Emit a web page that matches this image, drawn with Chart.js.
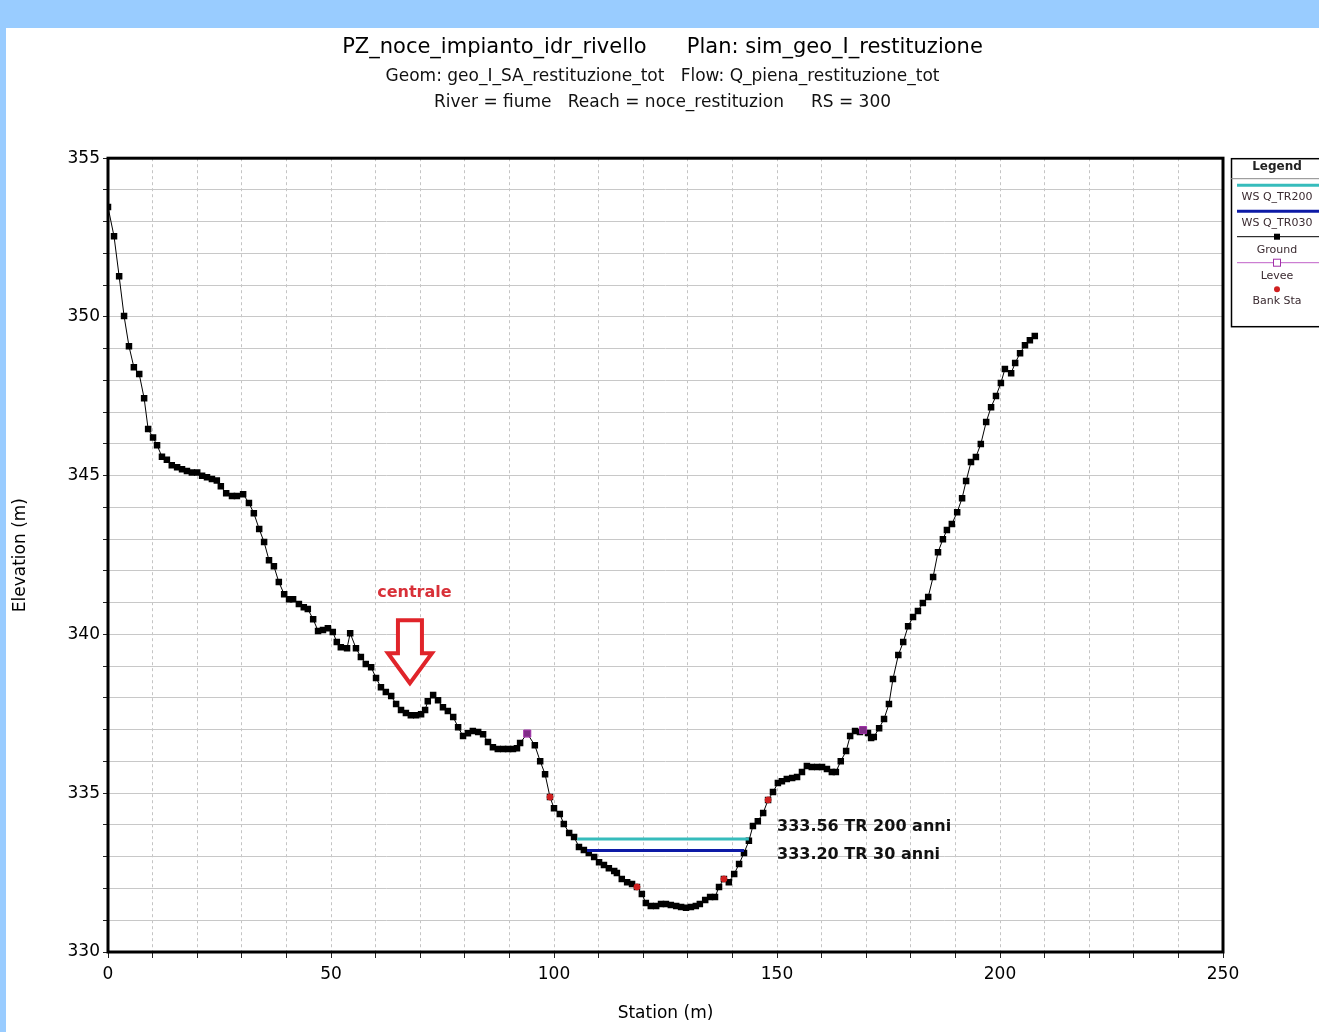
<!DOCTYPE html>
<html><head><meta charset="utf-8">
<script src="https://cdn.jsdelivr.net/npm/chart.js@4.4.1/dist/chart.umd.min.js"></script>
<style>
html,body{margin:0;padding:0;background:#99ccff;width:1319px;height:1032px;overflow:hidden}
#wrap{position:absolute;left:6px;top:28px;width:1313px;height:1004px;background:#fff}
canvas{display:block}
</style></head><body>
<div id="wrap"><canvas id="c" width="1313" height="1004"></canvas></div>
<script>
const FONT = "'DejaVu Sans', Arial, sans-serif";

const titleLine1 = "PZ_noce_impianto_idr_rivello      Plan: sim_geo_I_restituzione";
const titleLine2 = "Geom: geo_I_SA_restituzione_tot   Flow: Q_piena_restituzione_tot";
const titleLine3 = "River = fiume   Reach = noce_restituzion     RS = 300";
const xAxisTitle = "Station (m)";
const yAxisTitle = "Elevation (m)";

const groundStation = [0,1.35,2.5,3.6,4.7,5.8,7.0,8.1,9.0,10.1,11.0,12.1,13.2,14.3,15.5,16.6,17.7,18.8,20.0,21.1,22.2,23.3,24.4,25.3,26.5,27.8,28.9,30.3,31.6,32.7,33.9,35.0,36.1,37.2,38.3,39.5,40.6,41.5,42.8,43.9,44.8,46.0,47.1,48.2,49.3,50.4,51.3,52.2,53.6,54.3,55.6,56.7,57.8,59.0,60.1,61.2,62.3,63.5,64.6,65.7,66.8,67.9,69.1,70.2,71.1,71.7,72.9,74.0,75.1,76.2,77.4,78.5,79.6,80.7,81.8,83.0,84.1,85.2,86.3,87.4,88.6,89.7,90.8,91.7,92.4,94.0,95.7,96.9,98.0,99.1,100.0,101.3,102.2,103.4,104.5,105.6,106.7,107.8,109.0,110.1,111.2,112.3,113.5,114.1,115.2,116.4,117.5,118.6,119.7,120.6,121.7,122.9,124.0,125.1,126.2,127.4,128.5,129.6,130.7,131.8,132.7,133.9,135.0,136.1,137.0,138.1,139.2,140.4,141.5,142.6,143.7,144.6,145.7,146.9,148.0,149.1,150.2,151.1,152.2,153.4,154.5,155.6,156.7,157.8,159.0,160.1,161.2,162.3,163.2,164.3,165.5,166.4,167.5,168.6,169.3,170.4,171.1,171.7,172.9,174.0,175.1,176.0,177.2,178.3,179.4,180.5,181.6,182.7,183.9,185.0,186.1,187.2,188.1,189.2,190.4,191.5,192.4,193.5,194.6,195.7,196.9,198.0,199.1,200.2,201.1,202.5,203.4,204.5,205.6,206.7,207.8];
const groundElev = [353.46,352.54,351.28,350.03,349.08,348.42,348.2,347.44,346.47,346.2,345.96,345.6,345.5,345.33,345.27,345.2,345.15,345.1,345.1,345.0,344.95,344.9,344.85,344.67,344.45,344.36,344.36,344.42,344.14,343.82,343.32,342.91,342.34,342.15,341.65,341.27,341.11,341.11,340.96,340.86,340.80,340.48,340.11,340.14,340.20,340.08,339.76,339.60,339.57,340.04,339.57,339.29,339.07,338.97,338.63,338.34,338.19,338.06,337.81,337.62,337.53,337.46,337.46,337.49,337.62,337.90,338.09,337.93,337.71,337.59,337.40,337.08,336.80,336.89,336.96,336.93,336.86,336.61,336.45,336.39,336.39,336.39,336.39,336.42,336.58,336.88,336.51,336.01,335.60,334.88,334.53,334.35,334.03,333.75,333.62,333.31,333.21,333.12,332.99,332.83,332.74,332.64,332.55,332.49,332.30,332.20,332.14,332.05,331.83,331.54,331.45,331.45,331.51,331.51,331.48,331.45,331.42,331.39,331.42,331.45,331.51,331.64,331.73,331.73,332.05,332.30,332.20,332.46,332.77,333.12,333.50,333.97,334.12,334.38,334.79,335.04,335.32,335.38,335.45,335.48,335.51,335.67,335.86,335.83,335.83,335.83,335.76,335.67,335.67,336.01,336.33,336.80,336.96,336.93,336.99,336.90,336.74,336.77,337.05,337.34,337.81,338.60,339.35,339.76,340.26,340.55,340.74,340.99,341.18,341.81,342.59,343.00,343.29,343.48,343.85,344.29,344.83,345.43,345.59,346.00,346.69,347.16,347.51,347.92,348.36,348.23,348.55,348.86,349.11,349.27,349.40];

const wsTR200Station = [105.2, 143.7];
const wsTR200Elev = 333.56;
const wsTR030Station = [107.4, 142.6];
const wsTR030Elev = 333.20;

const leveeStation = [94.0, 169.3];
const leveeElev = [336.88, 336.99];

const bankStation = [99.1, 118.6, 138.1, 148.0];
const bankElev = [334.88, 332.05, 332.30, 334.79];

const legendLabels = ["WS Q_TR200", "WS Q_TR030", "Ground", "Levee", "Bank Sta"];

const annotCentrale = {text: "centrale", x: 68.7, y: 341.3, arrowX: 67.7, arrowY: 338.37};
const wsLabels = [
  {text: "333.56 TR 200 anni", x: 150.0, y: 333.93},
  {text: "333.20 TR 30 anni", x: 150.0, y: 333.05}
];

const C_TR200 = '#36bcbc', C_TR030 = '#0d1aa6', C_LEVEE = '#a030a8', C_BANK = '#d02020';

const ground = groundStation.map((x, i) => ({x, y: groundElev[i]}));

const framePlugin = {
  id: 'frame',
  afterDatasetsDraw(chart) {
    const a = chart.chartArea, ctx = chart.ctx;
    ctx.save();
    ctx.strokeStyle = '#000';
    ctx.lineWidth = 3;
    ctx.strokeRect(a.left, a.top, a.right - a.left, a.bottom - a.top);
    ctx.restore();
  }
};

const annotPlugin = {
  id: 'annots',
  afterDatasetsDraw(chart) {
    const ctx = chart.ctx, xs = chart.scales.x, ys = chart.scales.y;
    ctx.save();
    ctx.font = "bold 16px " + FONT;
    ctx.fillStyle = '#d83038';
    ctx.textAlign = 'center';
    ctx.textBaseline = 'middle';
    ctx.fillText(annotCentrale.text, xs.getPixelForValue(annotCentrale.x), ys.getPixelForValue(annotCentrale.y));
    const tx = xs.getPixelForValue(annotCentrale.arrowX), ty = ys.getPixelForValue(annotCentrale.arrowY);
    ctx.beginPath();
    ctx.moveTo(tx, ty - 3);
    ctx.lineTo(tx - 22, ty - 33);
    ctx.lineTo(tx - 12, ty - 33);
    ctx.lineTo(tx - 12, ty - 66);
    ctx.lineTo(tx + 12, ty - 66);
    ctx.lineTo(tx + 12, ty - 33);
    ctx.lineTo(tx + 22, ty - 33);
    ctx.closePath();
    ctx.fillStyle = '#fff';
    ctx.fill();
    ctx.strokeStyle = '#e0242a';
    ctx.lineWidth = 4;
    ctx.lineJoin = 'miter';
    ctx.stroke();
    ctx.font = "bold 16px " + FONT;
    ctx.fillStyle = '#111';
    ctx.textAlign = 'left';
    wsLabels.forEach(l => ctx.fillText(l.text, xs.getPixelForValue(l.x), ys.getPixelForValue(l.y)));
    ctx.restore();
  }
};

const legendPlugin = {
  id: 'customLegend',
  afterDraw(chart) {
    const ctx = chart.ctx, a = chart.chartArea;
    const lx = a.right + 8, top = a.top, h = 168, cx = lx + 46, W = chart.width;
    ctx.save();
    ctx.fillStyle = '#fff';
    ctx.fillRect(lx, top, W - lx, h);
    ctx.strokeStyle = '#000';
    ctx.lineWidth = 1.5;
    ctx.strokeRect(lx + 0.5, top + 0.5, W - lx + 10, h);
    ctx.beginPath(); ctx.moveTo(lx, top + 20.5); ctx.lineTo(W, top + 20.5);
    ctx.lineWidth = 1; ctx.strokeStyle = '#888'; ctx.stroke();
    ctx.fillStyle = '#222';
    ctx.textAlign = 'center'; ctx.textBaseline = 'middle';
    ctx.font = "bold 12px " + FONT;
    ctx.fillText("Legend", cx, top + 9);
    ctx.font = "11px " + FONT;
    const x0 = lx + 6, x1 = W;
    ctx.strokeStyle = C_TR200; ctx.lineWidth = 3;
    ctx.beginPath(); ctx.moveTo(x0, top + 27); ctx.lineTo(x1, top + 27); ctx.stroke();
    ctx.fillStyle = '#3a2a30'; ctx.fillText(legendLabels[0], cx, top + 39);
    ctx.strokeStyle = C_TR030; ctx.lineWidth = 3;
    ctx.beginPath(); ctx.moveTo(x0, top + 53); ctx.lineTo(x1, top + 53); ctx.stroke();
    ctx.fillText(legendLabels[1], cx, top + 65);
    ctx.strokeStyle = '#000'; ctx.lineWidth = 1;
    ctx.beginPath(); ctx.moveTo(x0, top + 78.5); ctx.lineTo(x1, top + 78.5); ctx.stroke();
    ctx.fillStyle = '#000'; ctx.fillRect(cx - 3, top + 75.5, 6, 6);
    ctx.fillStyle = '#3a2a30'; ctx.fillText(legendLabels[2], cx, top + 92);
    ctx.strokeStyle = '#c060c8'; ctx.lineWidth = 1;
    ctx.beginPath(); ctx.moveTo(x0, top + 104.5); ctx.lineTo(x1, top + 104.5); ctx.stroke();
    ctx.fillStyle = '#fff'; ctx.fillRect(cx - 3.5, top + 101, 7, 7);
    ctx.strokeStyle = C_LEVEE; ctx.strokeRect(cx - 3.5, top + 101, 7, 7);
    ctx.fillStyle = '#3a2a30'; ctx.fillText(legendLabels[3], cx, top + 118);
    ctx.fillStyle = C_BANK;
    ctx.beginPath(); ctx.arc(cx, top + 131, 3, 0, Math.PI * 2); ctx.fill();
    ctx.fillStyle = '#3a2a30'; ctx.fillText(legendLabels[4], cx, top + 143);
    ctx.restore();
  }
};

new Chart(document.getElementById('c').getContext('2d'), {
  type: 'scatter',
  data: {
    datasets: [
      {label: legendLabels[0], data: wsTR200Station.map(x => ({x, y: wsTR200Elev})), showLine: true,
       borderColor: C_TR200, borderWidth: 3, pointRadius: 0, order: 2},
      {label: legendLabels[1], data: wsTR030Station.map(x => ({x, y: wsTR030Elev})), showLine: true,
       borderColor: C_TR030, borderWidth: 3, pointRadius: 0, order: 2},
      {label: legendLabels[2], data: ground, showLine: true, borderColor: '#000', borderWidth: 1,
       pointStyle: 'rect', pointRadius: 4.6, pointBackgroundColor: '#000', pointBorderColor: '#000', pointBorderWidth: 0, order: 3},
      {label: legendLabels[3], data: leveeStation.map((x, i) => ({x, y: leveeElev[i]})), showLine: false,
       pointStyle: 'rect', pointRadius: 5, pointBackgroundColor: 'rgba(170,60,180,0.75)', pointBorderColor: C_LEVEE, pointBorderWidth: 1, order: 1},
      {label: legendLabels[4], data: bankStation.map((x, i) => ({x, y: bankElev[i]})), showLine: false,
       pointStyle: 'circle', pointRadius: 3, pointBackgroundColor: C_BANK, pointBorderColor: C_BANK, order: 0}
    ]
  },
  options: {
    responsive: false,
    animation: false,
    layout: {padding: 0},
    plugins: {
      legend: {display: false},
      tooltip: {enabled: false},
      title: {display: true, text: titleLine1, color: '#000',
              font: {family: FONT, size: 21, weight: 'normal', lineHeight: 1.2}, padding: {top: 7, bottom: 4}},
      subtitle: {display: true, text: [titleLine2, titleLine3], color: '#111',
              font: {family: FONT, size: 17, weight: 'normal', lineHeight: 1.5}, padding: {top: 0, bottom: 43}}
    },
    scales: {
      x: {
        type: 'linear', min: 0, max: 250,
        ticks: {stepSize: 10, autoSkip: false, maxRotation: 0, padding: 6, color: '#000',
                font: {family: FONT, size: 17}, callback: v => (v % 50 === 0 ? String(v) : '')},
        grid: {color: '#c4c4c4', tickColor: '#222', tickLength: 6, lineWidth: 1},
        border: {display: false, dash: [3, 3]},
        title: {display: true, text: xAxisTitle, color: '#000', font: {family: FONT, size: 17}, padding: {top: 0, bottom: 8}},
        afterFit: s => { s.height = 80; }
      },
      y: {
        type: 'linear', min: 330, max: 355, position: 'left',
        ticks: {stepSize: 1, autoSkip: false, padding: 3, color: '#000',
                font: {family: FONT, size: 17}, callback: v => (v % 5 === 0 ? String(v) : '')},
        grid: {color: '#c8c8c8', tickColor: '#222', tickLength: 5, lineWidth: 1},
        border: {display: false},
        title: {display: true, text: yAxisTitle, color: '#000', font: {family: FONT, size: 17}, padding: {top: 4, bottom: 0}},
        afterFit: s => { s.width = 102; }
      },
      yRight: {
        type: 'linear', min: 330, max: 355, position: 'right', display: true,
        ticks: {display: false},
        grid: {display: false, drawOnChartArea: false, drawTicks: false},
        border: {display: false},
        afterFit: s => { s.width = 96; }
      }
    }
  },
  plugins: [framePlugin, annotPlugin, legendPlugin]
});
</script>
</body></html>
